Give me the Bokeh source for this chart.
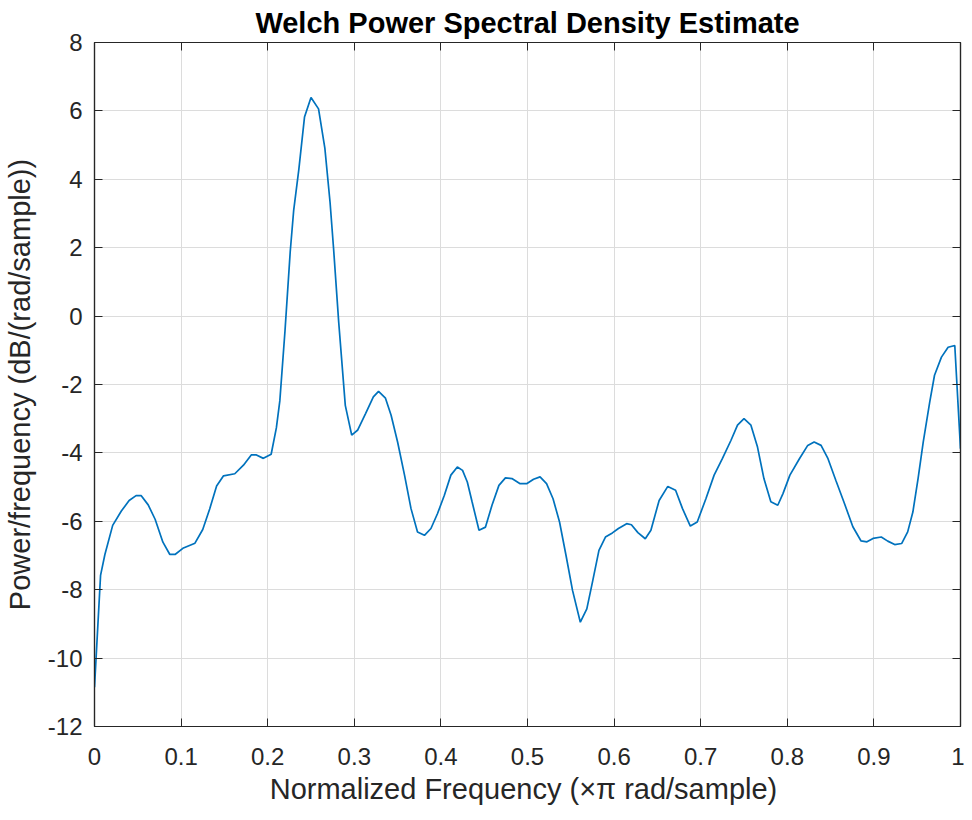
from bokeh.plotting import figure
from bokeh.models import LinearAxis, FixedTicker, Range1d
from bokeh.embed import file_html
from bokeh.resources import INLINE

# ---- data ----
freq = [0.000, 0.007, 0.012, 0.021, 0.031, 0.040, 0.048, 0.054, 0.062, 0.070,
        0.079, 0.087, 0.093, 0.102, 0.116, 0.125, 0.133, 0.141, 0.149, 0.162,
        0.172, 0.181, 0.187, 0.195, 0.204, 0.210, 0.214, 0.220, 0.226, 0.230,
        0.236, 0.2425, 0.250, 0.2587, 0.266, 0.272, 0.276, 0.282, 0.2896, 0.297,
        0.304, 0.313, 0.322, 0.328, 0.336, 0.3425, 0.350, 0.358, 0.3655, 0.373,
        0.381, 0.3885, 0.396, 0.404, 0.4115, 0.419, 0.425, 0.4305, 0.436, 0.444,
        0.4515, 0.459, 0.467, 0.4745, 0.482, 0.4915, 0.499, 0.507, 0.5145, 0.522,
        0.5295, 0.537, 0.5445, 0.552, 0.561, 0.5685, 0.575, 0.5825, 0.590, 0.598,
        0.605, 0.6145, 0.620, 0.6275, 0.636, 0.6425, 0.652, 0.662, 0.671, 0.679,
        0.688, 0.696, 0.706, 0.7155, 0.725, 0.735, 0.7425, 0.750, 0.758, 0.7656,
        0.773, 0.781, 0.789, 0.795, 0.803, 0.814, 0.8236, 0.831, 0.839, 0.847,
        0.856, 0.866, 0.8757, 0.885, 0.892, 0.899, 0.9085, 0.916, 0.924, 0.932,
        0.939, 0.945, 0.951, 0.957, 0.9645, 0.970, 0.978, 0.9857, 0.9934, 1.000]
psd_db = [-10.85, -7.58, -6.97, -6.12, -5.70, -5.39, -5.25, -5.25, -5.52, -5.94,
          -6.61, -6.97, -6.97, -6.79, -6.64, -6.24, -5.64, -4.97, -4.67, -4.61,
          -4.36, -4.06, -4.06, -4.16, -4.04, -3.27, -2.48, -0.42, 1.88, 3.09,
          4.30, 5.82, 6.39, 6.06, 4.91, 3.33, 2.00, -0.18, -2.61, -3.48,
          -3.33, -2.85, -2.36, -2.20, -2.40, -2.90, -3.68, -4.65, -5.63, -6.31,
          -6.41, -6.21, -5.78, -5.24, -4.65, -4.41, -4.51, -4.85, -5.43, -6.26,
          -6.17, -5.53, -4.95, -4.73, -4.75, -4.90, -4.90, -4.77, -4.70, -4.90,
          -5.34, -6.02, -7.00, -8.02, -8.95, -8.56, -7.78, -6.85, -6.46, -6.34,
          -6.21, -6.07, -6.10, -6.33, -6.51, -6.26, -5.39, -4.98, -5.09, -5.63,
          -6.14, -6.02, -5.34, -4.65, -4.17, -3.63, -3.19, -3.00, -3.19, -3.83,
          -4.75, -5.43, -5.53, -5.19, -4.65, -4.17, -3.78, -3.68, -3.78, -4.17,
          -4.80, -5.48, -6.16, -6.57, -6.60, -6.50, -6.46, -6.58, -6.68, -6.65,
          -6.31, -5.73, -4.75, -3.68, -2.51, -1.73, -1.20, -0.91, -0.86, -3.88]

x_ticks = [0.0, 0.1, 0.2, 0.3, 0.4, 0.5, 0.6, 0.7, 0.8, 0.9, 1.0]
x_tick_labels = ["0", "0.1", "0.2", "0.3", "0.4", "0.5", "0.6", "0.7", "0.8", "0.9", "1"]
y_ticks = [-12, -10, -8, -6, -4, -2, 0, 2, 4, 6, 8]
y_tick_labels = ["-12", "-10", "-8", "-6", "-4", "-2", "0", "2", "4", "6", "8"]

title_text = "Welch Power Spectral Density Estimate"
x_label = "Normalized Frequency  (\u00d7\u03c0 rad/sample)"
y_label = "Power/frequency (dB/(rad/sample))"

FONT = "Liberation Sans"
AX = "#262626"

p = figure(width=964, height=812, x_range=Range1d(0, 1), y_range=Range1d(-12, 8),
           output_backend="svg", toolbar_location=None,
           min_border_left=94, min_border_right=4, min_border_top=42, min_border_bottom=86,
           background_fill_color="white", border_fill_color="white")

p.title.text = title_text
p.title.align = "center"
p.title.text_font = FONT
p.title.text_font_size = "29px"
p.title.text_font_style = "bold"
p.title.text_color = "#000000"
p.title.standoff = 7

p.outline_line_color = AX
p.outline_line_width = 1.2
p.outline_line_alpha = 1.0

p.line(freq, psd_db, line_color="#0072BD", line_width=1.7)

for ax in (p.xaxis[0], p.yaxis[0]):
    ax.axis_line_color = AX
    ax.axis_line_width = 1.2
    ax.major_tick_line_color = AX
    ax.major_tick_in = 8
    ax.major_tick_out = 0
    ax.minor_tick_line_color = None
    ax.major_label_text_font = FONT
    ax.major_label_text_font_size = "24px"
    ax.major_label_text_color = AX
    ax.axis_label_text_font = FONT
    ax.axis_label_text_font_size = "29px"
    ax.axis_label_text_font_style = "normal"
    ax.axis_label_text_color = AX

p.xaxis[0].ticker = FixedTicker(ticks=x_ticks)
p.xaxis[0].major_label_overrides = {t: l for t, l in zip(x_ticks, x_tick_labels)}
p.xaxis[0].axis_label = x_label
p.xaxis[0].major_label_standoff = 21
p.xaxis[0].axis_label_standoff = 5

p.yaxis[0].ticker = FixedTicker(ticks=y_ticks)
p.yaxis[0].major_label_overrides = {t: l for t, l in zip(y_ticks, y_tick_labels)}
p.yaxis[0].axis_label = y_label
p.yaxis[0].major_label_standoff = 12
p.yaxis[0].axis_label_standoff = 9

# box ticks on top and right
top_ax = LinearAxis(ticker=FixedTicker(ticks=x_ticks), major_tick_in=8, major_tick_out=0,
                    minor_tick_line_color=None, axis_line_color=AX, axis_line_width=1.2,
                    major_tick_line_color=AX, major_label_text_font_size="0px",
                    major_label_standoff=0)
right_ax = LinearAxis(ticker=FixedTicker(ticks=y_ticks), major_tick_in=8, major_tick_out=0,
                      minor_tick_line_color=None, axis_line_color=AX, axis_line_width=1.2,
                      major_tick_line_color=AX, major_label_text_font_size="0px",
                      major_label_standoff=0)
p.add_layout(top_ax, "above")
p.add_layout(right_ax, "right")

p.xgrid.ticker = FixedTicker(ticks=x_ticks)
p.ygrid.ticker = FixedTicker(ticks=y_ticks)
p.grid.grid_line_color = "#dcdcdc"
p.grid.grid_line_width = 1

open("out.html", "w").write(file_html(p, INLINE))
